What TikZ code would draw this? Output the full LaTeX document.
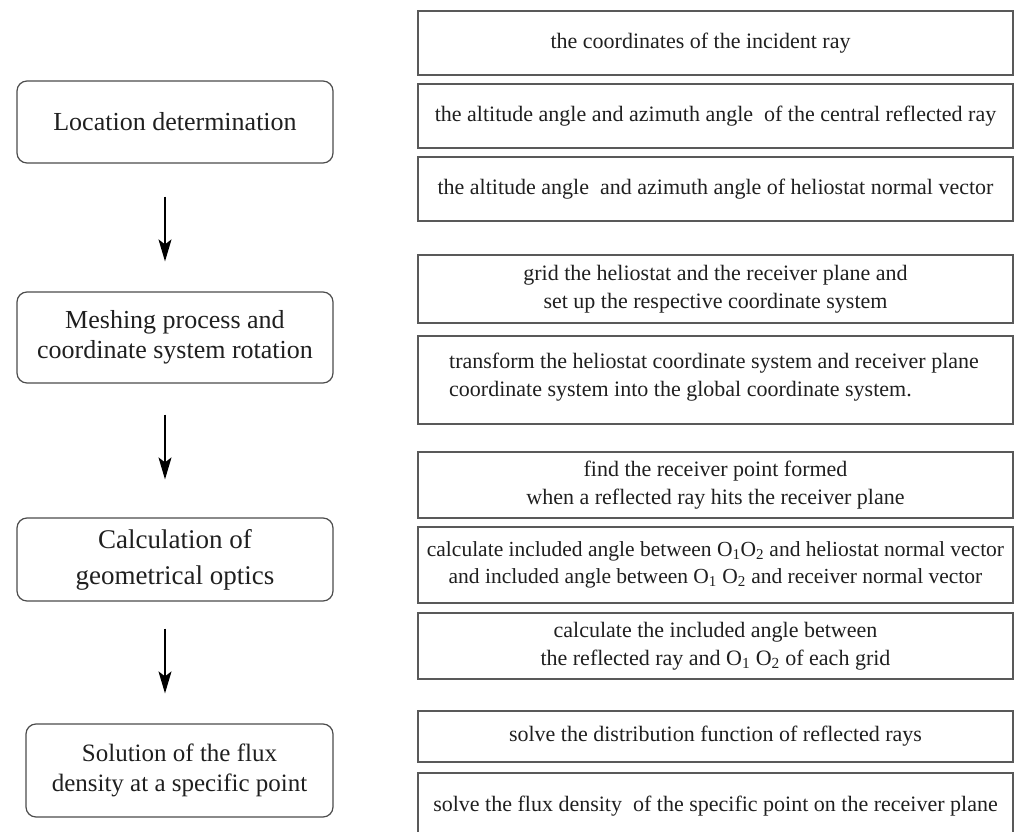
\documentclass[tikz,border=0pt]{standalone}
\usepackage{fontspec}
\setmainfont{Liberation Serif}
\usetikzlibrary{arrows.meta}
\begin{document}
\begin{tikzpicture}[x=1pt,y=-1pt,
  rbox/.style={draw=black!65, line width=1.2pt, rectangle, minimum width=595pt, inner sep=0pt, align=center, font=\fontsize{22}{28.5}\selectfont, text=black!88},
  lbox/.style={draw=black!70, line width=1.2pt, rounded corners=10pt, minimum width=316pt, inner sep=0pt, align=center, text=black!88},
  flow/.style={-{Stealth[length=22pt,width=13pt,inset=5pt]}, line width=1.6pt, black}
]
\useasboundingbox (0,0) rectangle (1015,832);
\begin{scope}
\clip (0,0) rectangle (1015,832);
% right boxes
\node[rbox, minimum height=64pt] (r1) at (715.5,43) {the coordinates of the incident ray\hspace*{30pt}};
\node[rbox, minimum height=64pt] (r2) at (715.5,116) {the altitude angle and azimuth angle\ \ of the central reflected ray};
\node[rbox, minimum height=64pt] (r3) at (715.5,189) {the altitude angle\ \ and azimuth angle of heliostat normal vector};
\node[rbox, minimum height=68pt] (r4) at (715.5,289) {grid the heliostat and the receiver plane and\\set up the respective coordinate system};
\node[rbox, minimum height=88pt] (r5) at (715.5,380) {};
\node[anchor=west, inner sep=0pt, align=left, font=\fontsize{22}{28.5}\selectfont, text=black!88] (t5) at (449,377) {transform the heliostat coordinate system and receiver plane\\coordinate system into the global coordinate system.};
\node[rbox, minimum height=66pt] (r6) at (715.5,485) {find the receiver point formed\\when a reflected ray hits the receiver plane};
\node[rbox, minimum height=76pt, font=\fontsize{21.5}{27}\selectfont] (r7) at (715.5,565) {calculate included angle between O\textsubscript{1}O\textsubscript{2} and heliostat normal vector\\and included angle between O\textsubscript{1} O\textsubscript{2} and receiver normal vector};
\node[rbox, minimum height=66pt] (r8) at (715.5,646) {calculate the included angle between\\the reflected ray and O\textsubscript{1} O\textsubscript{2} of each grid};
\node[rbox, minimum height=51pt] (r9) at (715.5,736.5) {solve the distribution function of reflected rays};
\node[rbox, minimum height=62pt, text depth=0pt] (r10) at (715.5,804) {solve the flux density\ \ of the specific point on the receiver plane};
\end{scope}
% left boxes
\node[lbox, minimum height=82pt, font=\fontsize{26}{31}\selectfont] (l1) at (175,122) {Location determination};
\node[lbox, minimum height=91pt, font=\fontsize{26}{30}\selectfont] (l2) at (175,337.5) {Meshing process and\\coordinate system rotation};
\node[lbox, minimum height=83pt, font=\fontsize{27}{36}\selectfont] (l3) at (175,559.5) {Calculation of\\geometrical optics};
\node[lbox, minimum width=307pt, minimum height=93pt, font=\fontsize{25}{30}\selectfont] (l4) at (179.5,770.5) {Solution of the flux\\density at a specific point};
% arrows
\coordinate (ax) at (165,0);
\draw[flow, shorten <=33pt, shorten >=30pt] (l1.south -| ax) -- (l2.north -| ax);
\draw[flow, shorten <=31pt, shorten >=38pt] (l2.south -| ax) -- (l3.north -| ax);
\draw[flow, shorten <=27pt, shorten >=30pt] (l3.south -| ax) -- (l4.north -| ax);
\end{tikzpicture}
\end{document}
